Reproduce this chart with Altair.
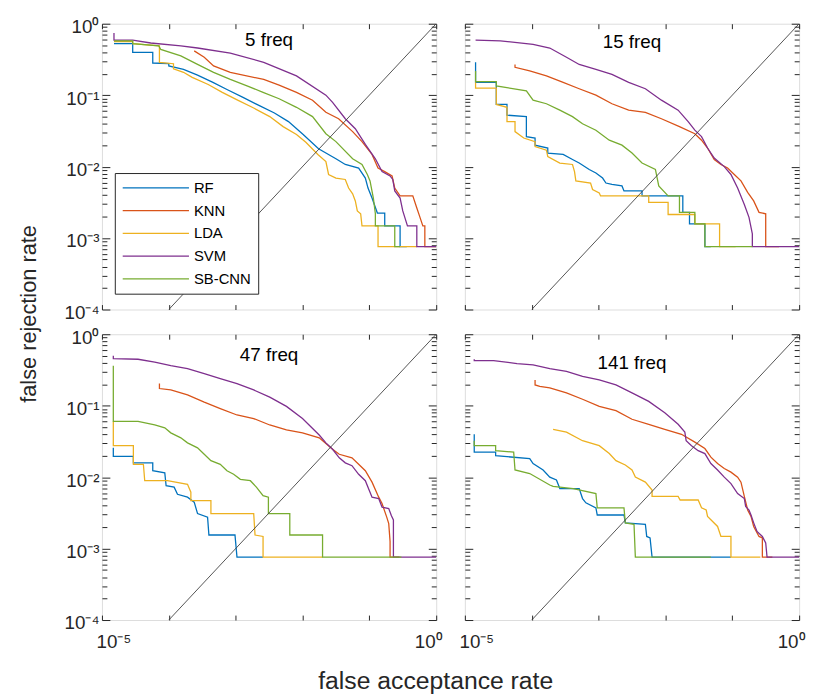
import altair as alt
import pandas as pd

FONT = "Liberation Sans"
AX = "#262626"

models = ["RF", "KNN", "LDA", "SVM", "SB-CNN"]
colors = ["#0072BD", "#D95319", "#EDB120", "#7E2F8E", "#77AC30"]
panel_titles = ["5 freq", "15 freq", "47 freq", "141 freq"]

# values, stored as log10 exponents
# ---- 5 freq
rf5_far = [-4.82,-4.54,-4.54,-4.24,-4.24,-4.00,-4.00,-3.78,-3.57,-3.34,-3.13,-2.89,-2.66,-2.42,-2.21,-1.99,-1.76,-1.50,-1.36,-1.16,-1.06,-1.02,-0.96,-0.88,-0.77,-0.77,-0.54,-0.54,-0.44]
rf5_frr = [-0.28,-0.28,-0.40,-0.40,-0.55,-0.56,-0.59,-0.64,-0.72,-0.82,-0.92,-1.03,-1.14,-1.25,-1.37,-1.55,-1.75,-1.89,-1.97,-2.02,-2.16,-2.30,-2.44,-2.65,-2.65,-2.83,-2.83,-3.12,-3.12]
knn5_far = [-3.62,-3.47,-3.33,-3.08,-2.58,-2.35,-2.09,-1.85,-1.65,-1.46,-1.25,-1.11,-0.96,-0.87,-0.77,-0.66,-0.62,-0.54,-0.35,-0.29,-0.25,-0.20,-0.17,-0.17,0.0]
knn5_frr = [-0.38,-0.47,-0.59,-0.68,-0.78,-0.86,-0.96,-1.07,-1.24,-1.33,-1.51,-1.65,-1.83,-2.02,-2.07,-2.13,-2.30,-2.41,-2.41,-2.58,-2.69,-2.83,-2.83,-3.12,-3.12]
lda5_far = [-4.82,-4.54,-4.54,-4.14,-4.14,-3.93,-3.93,-3.78,-3.65,-3.41,-3.20,-2.97,-2.73,-2.49,-2.29,-2.09,-1.95,-1.77,-1.65,-1.61,-1.50,-1.36,-1.31,-1.25,-1.21,-1.18,-1.13,-1.11,-0.87,-0.87,-0.29]
lda5_frr = [-0.25,-0.25,-0.28,-0.31,-0.54,-0.56,-0.63,-0.68,-0.75,-0.85,-0.96,-1.07,-1.18,-1.30,-1.44,-1.55,-1.66,-1.83,-1.93,-2.11,-2.16,-2.18,-2.30,-2.38,-2.48,-2.62,-2.66,-2.83,-2.83,-3.12,-3.12]
svm5_far = [-4.82,-4.82,-4.54,-4.27,-3.82,-3.57,-3.08,-2.58,-2.09,-1.65,-1.55,-1.36,-1.21,-1.06,-0.91,-0.81,-0.69,-0.65,-0.62,-0.54,-0.50,-0.43,-0.29,-0.29,0.0]
svm5_frr = [-0.13,-0.23,-0.23,-0.27,-0.31,-0.34,-0.41,-0.54,-0.73,-1.00,-1.10,-1.33,-1.47,-1.69,-1.89,-2.07,-2.13,-2.18,-2.34,-2.44,-2.62,-2.83,-2.83,-3.12,-3.12]
cnn5_far = [-4.82,-4.54,-4.54,-4.15,-4.12,-3.82,-3.57,-3.33,-3.08,-2.83,-2.59,-2.35,-2.09,-1.85,-1.65,-1.50,-1.25,-1.11,-1.03,-0.99,-0.94,-0.91,-0.91,-0.62,-0.62,-0.54]
cnn5_frr = [-0.24,-0.24,-0.28,-0.31,-0.36,-0.45,-0.57,-0.68,-0.78,-0.87,-0.96,-1.05,-1.17,-1.30,-1.54,-1.65,-1.89,-1.97,-2.11,-2.20,-2.44,-2.66,-2.83,-2.83,-3.12,-3.12]

# ---- 15 freq
rf15_far = [-4.84,-4.84,-4.53,-4.53,-4.37,-4.37,-4.08,-4.08,-3.95,-3.95,-3.76,-3.76,-3.53,-3.39,-3.29,-3.14,-3.04,-2.94,-2.89,-2.80,-2.65,-2.62,-2.35,-2.35,-1.74,-1.74,-1.64,-1.64,-1.41,-1.41,-1.32]
rf15_frr = [-0.54,-0.82,-0.82,-1.13,-1.13,-1.28,-1.30,-1.58,-1.60,-1.70,-1.74,-1.81,-1.83,-1.90,-1.95,-2.04,-2.09,-2.16,-2.23,-2.25,-2.27,-2.34,-2.34,-2.41,-2.41,-2.64,-2.64,-2.80,-2.80,-3.12,-3.12]
knn15_far = [-4.25,-4.25,-4.03,-3.78,-3.53,-3.29,-3.04,-2.80,-2.55,-2.30,-2.06,-1.79,-1.56,-1.46,-1.37,-1.27,-1.17,-1.07,-0.97,-0.87,-0.77,-0.68,-0.60,-0.50,-0.50,-0.30]
knn15_frr = [-0.57,-0.61,-0.66,-0.73,-0.82,-0.91,-1.00,-1.12,-1.21,-1.24,-1.33,-1.44,-1.54,-1.63,-1.74,-1.90,-1.97,-2.02,-2.11,-2.20,-2.36,-2.48,-2.64,-2.66,-3.12,-3.12]
lda15_far = [-4.84,-4.84,-4.53,-4.53,-4.37,-4.37,-4.25,-4.25,-4.12,-3.95,-3.95,-3.78,-3.76,-3.58,-3.39,-3.36,-3.34,-3.12,-3.09,-2.99,-2.97,-2.25,-2.25,-1.96,-1.96,-1.56,-1.56,-1.19,-1.19,-0.95]
lda15_frr = [-0.82,-0.90,-0.90,-1.13,-1.17,-1.37,-1.37,-1.51,-1.60,-1.65,-1.72,-1.77,-1.86,-1.95,-1.97,-2.07,-2.20,-2.23,-2.32,-2.37,-2.41,-2.41,-2.50,-2.50,-2.67,-2.67,-2.80,-2.80,-3.12,-3.12]
svm15_far = [-4.84,-4.47,-3.98,-3.73,-3.48,-3.29,-3.04,-2.80,-2.55,-2.30,-2.06,-1.81,-1.66,-1.56,-1.46,-1.37,-1.27,-1.12,-1.02,-0.92,-0.82,-0.75,-0.70,-0.70,0.0]
svm15_frr = [-0.23,-0.24,-0.29,-0.34,-0.47,-0.57,-0.64,-0.71,-0.82,-0.91,-1.07,-1.21,-1.37,-1.49,-1.58,-1.74,-1.88,-2.00,-2.11,-2.30,-2.53,-2.71,-2.94,-3.12,-3.12]
cnn15_far = [-4.84,-4.84,-4.53,-4.53,-4.08,-3.98,-3.78,-3.58,-3.39,-3.24,-3.04,-2.84,-2.65,-2.50,-2.35,-2.15,-2.10,-1.96,-1.79,-1.79,-1.56,-1.56,-1.41,-1.41,-0.70]
cnn15_frr = [-0.66,-0.81,-0.81,-0.87,-0.94,-1.07,-1.12,-1.21,-1.30,-1.40,-1.49,-1.63,-1.70,-1.81,-1.95,-2.04,-2.27,-2.41,-2.41,-2.64,-2.64,-2.80,-2.80,-3.12,-3.12]

# ---- 47 freq
rf47_far = [-4.83,-4.83,-4.53,-4.53,-4.24,-4.24,-4.06,-4.04,-3.92,-3.87,-3.72,-3.62,-3.57,-3.42,-3.40,-3.01,-2.98,-2.59]
rf47_frr = [-1.59,-1.71,-1.71,-1.80,-1.80,-1.91,-1.94,-2.12,-2.14,-2.24,-2.28,-2.35,-2.51,-2.56,-2.81,-2.81,-3.12,-3.12]
knn47_far = [-4.14,-4.14,-3.97,-3.72,-3.47,-3.23,-2.98,-2.73,-2.49,-2.24,-2.00,-1.75,-1.55,-1.45,-1.26,-1.06,-0.96,-0.86,-0.81,-0.74,-0.71,-0.69,-0.69,-0.55]
knn47_frr = [-0.69,-0.76,-0.78,-0.85,-0.95,-1.04,-1.13,-1.18,-1.27,-1.34,-1.38,-1.45,-1.61,-1.68,-1.73,-1.91,-2.07,-2.28,-2.37,-2.56,-2.65,-2.90,-3.12,-3.12]
lda47_far = [-4.83,-4.83,-4.53,-4.53,-4.38,-4.36,-4.02,-3.72,-3.67,-3.67,-3.37,-3.37,-2.73,-2.71,-2.59,-2.59,-1.70]
lda47_frr = [-1.22,-1.56,-1.56,-1.82,-1.82,-2.05,-2.05,-2.10,-2.21,-2.33,-2.33,-2.51,-2.51,-2.81,-2.83,-3.12,-3.12]
svm47_far = [-4.83,-4.83,-4.46,-4.21,-3.97,-3.72,-3.47,-3.23,-2.98,-2.73,-2.49,-2.24,-2.00,-1.75,-1.65,-1.55,-1.45,-1.36,-1.26,-1.16,-1.06,-0.96,-0.86,-0.81,-0.71,-0.67,-0.64,-0.64,0.0]
svm47_frr = [-0.30,-0.34,-0.35,-0.39,-0.44,-0.48,-0.55,-0.62,-0.69,-0.78,-0.88,-1.01,-1.18,-1.41,-1.52,-1.61,-1.73,-1.80,-1.84,-1.96,-2.05,-2.28,-2.30,-2.42,-2.44,-2.54,-2.60,-3.12,-3.12]
cnn47_far = [-4.83,-4.83,-4.46,-4.21,-4.06,-3.97,-3.82,-3.72,-3.57,-3.47,-3.37,-3.23,-3.13,-3.03,-2.93,-2.78,-2.69,-2.59,-2.51,-2.51,-2.19,-2.19,-1.70,-1.70,-0.52]
cnn47_frr = [-0.44,-1.22,-1.22,-1.27,-1.31,-1.38,-1.45,-1.52,-1.59,-1.68,-1.77,-1.82,-1.91,-1.96,-2.03,-2.05,-2.14,-2.26,-2.28,-2.51,-2.51,-2.81,-2.81,-3.12,-3.12]

# ---- 141 freq
rf141_far = [-4.86,-4.86,-4.54,-4.54,-4.03,-3.98,-3.83,-3.73,-3.63,-3.58,-3.29,-3.24,-3.19,-3.04,-3.02,-2.62,-2.60,-2.30,-2.28,-2.23,-2.20,-1.02]
rf141_frr = [-1.40,-1.65,-1.65,-1.70,-1.74,-1.81,-1.90,-2.00,-2.04,-2.16,-2.16,-2.30,-2.36,-2.43,-2.53,-2.53,-2.64,-2.66,-2.83,-2.85,-3.12,-3.12]
knn141_far = [-3.95,-3.95,-3.88,-3.73,-3.48,-3.24,-2.99,-2.74,-2.50,-2.25,-2.01,-1.76,-1.56,-1.41,-1.32,-1.22,-1.12,-1.02,-0.92,-0.87,-0.82,-0.77,-0.72,-0.68,-0.60,-0.55,-0.55,-0.40]
knn141_frr = [-0.64,-0.71,-0.73,-0.75,-0.82,-0.91,-1.01,-1.07,-1.19,-1.26,-1.33,-1.40,-1.51,-1.60,-1.72,-1.81,-1.88,-1.93,-2.00,-2.07,-2.27,-2.46,-2.55,-2.69,-2.83,-2.85,-3.12,-3.12]
lda141_far = [-3.68,-3.48,-3.24,-2.99,-2.84,-2.74,-2.60,-2.50,-2.45,-2.30,-2.20,-2.20,-1.81,-1.78,-1.51,-1.46,-1.39,-1.37,-1.22,-1.17,-1.02,-1.02,-0.58]
lda141_frr = [-1.33,-1.37,-1.49,-1.56,-1.67,-1.77,-1.83,-1.90,-2.00,-2.07,-2.18,-2.27,-2.27,-2.32,-2.32,-2.43,-2.46,-2.55,-2.69,-2.83,-2.83,-3.12,-3.12]
svm141_far = [-4.86,-4.86,-4.57,-4.22,-3.98,-3.73,-3.48,-3.24,-2.99,-2.74,-2.50,-2.25,-2.01,-1.81,-1.71,-1.69,-1.61,-1.51,-1.41,-1.32,-1.22,-1.12,-1.02,-0.92,-0.82,-0.80,-0.75,-0.72,-0.68,-0.63,-0.55,-0.50,-0.48,0.0]
svm141_frr = [-0.35,-0.37,-0.37,-0.41,-0.43,-0.48,-0.52,-0.59,-0.64,-0.71,-0.82,-0.94,-1.10,-1.26,-1.37,-1.49,-1.56,-1.63,-1.67,-1.81,-1.90,-2.00,-2.09,-2.23,-2.30,-2.41,-2.46,-2.53,-2.64,-2.76,-2.83,-2.92,-3.12,-3.12]
cnn141_far = [-4.86,-4.86,-4.54,-4.54,-4.27,-4.25,-4.03,-3.73,-3.68,-3.38,-3.04,-3.02,-2.62,-2.60,-2.47,-2.45,-1.32]
cnn141_frr = [-1.49,-1.56,-1.56,-1.63,-1.65,-1.90,-1.95,-2.11,-2.13,-2.16,-2.23,-2.43,-2.43,-2.64,-2.66,-3.12,-3.12]

# chance diagonal (FAR = FRR)
diag_far = [1e-4, 1.0]
diag_frr = [1e-4, 1.0]

panels = [
    {"RF": (rf5_far, rf5_frr), "KNN": (knn5_far, knn5_frr), "LDA": (lda5_far, lda5_frr),
     "SVM": (svm5_far, svm5_frr), "SB-CNN": (cnn5_far, cnn5_frr)},
    {"RF": (rf15_far, rf15_frr), "KNN": (knn15_far, knn15_frr), "LDA": (lda15_far, lda15_frr),
     "SVM": (svm15_far, svm15_frr), "SB-CNN": (cnn15_far, cnn15_frr)},
    {"RF": (rf47_far, rf47_frr), "KNN": (knn47_far, knn47_frr), "LDA": (lda47_far, lda47_frr),
     "SVM": (svm47_far, svm47_frr), "SB-CNN": (cnn47_far, cnn47_frr)},
    {"RF": (rf141_far, rf141_frr), "KNN": (knn141_far, knn141_frr), "LDA": (lda141_far, lda141_frr),
     "SVM": (svm141_far, svm141_frr), "SB-CNN": (cnn141_far, cnn141_frr)},
]

x_major = [1e-5, 1e-4, 1e-3, 1e-2, 1e-1, 1.0]
y_major = [1e-4, 1e-3, 1e-2, 1e-1, 1.0]
y_minor = [k * m for m in [1e-4, 1e-3, 1e-2, 1e-1] for k in range(2, 10)]

xs = alt.Scale(type="log", domain=[1e-5, 1.0], nice=False)
ys = alt.Scale(type="log", domain=[1e-4, 1.0], nice=False)

W, H = 338, 289

x_lab = "datum.value < 2e-5 ? '10\u207b\u2075' : (datum.value > 0.5 ? '10\u2070' : '')"
y_lab = ("datum.value > 0.5 ? '10\u2070' : datum.value > 0.05 ? '10\u207b\u00b9' : "
         "datum.value > 0.005 ? '10\u207b\u00b2' : datum.value > 0.0005 ? '10\u207b\u00b3' : '10\u207b\u2074'")

tick_common = dict(domain=False, grid=False, tickColor=AX, tickWidth=1)


def make_df(series):
    rows = []
    for m in models:
        fx, fy = series[m]
        for i, (a, b) in enumerate(zip(fx, fy)):
            rows.append({"model": m, "i": i, "far": 10 ** a, "frr": 10 ** b})
    return pd.DataFrame(rows)


diag_df = pd.DataFrame({"far": diag_far, "frr": diag_frr})

title_offsets = [-33, -29, -37, -40]


def panel(k):
    left = k in (0, 2)
    bottom = k in (2, 3)
    df = make_df(panels[k])

    if bottom:
        xax = alt.Axis(orient="bottom", values=x_major, tickSize={"expr": "-5"},
                       labels=True, labelExpr=x_lab, labelFont=FONT, labelFontSize=19,
                       labelColor=AX, labelPadding=18, labelFlush=True, labelFlushOffset=6,
                       labelOverlap=False, **tick_common,
                       **({"title": "false acceptance rate", "titleFont": FONT, "titleFontSize": 25,
                           "titleFontWeight": "normal", "titleColor": AX, "titleX": 337, "titleY": 69,
                           "titleBaseline": "alphabetic", "titleAlign": "center"} if k == 2 else {"title": None}))
    else:
        xax = alt.Axis(orient="bottom", values=x_major, tickSize={"expr": "-5"}, labels=False,
                       title=None, **tick_common)

    if left:
        yax = alt.Axis(orient="left", values=y_major, tickSize={"expr": "-8"},
                       labels=True, labelExpr=y_lab, labelFont=FONT, labelFontSize=19,
                       labelColor=AX, labelPadding=11, labelOffset=3, labelOverlap=False,
                       **tick_common,
                       **({"title": "false rejection rate", "titleFont": FONT, "titleFontSize": 22,
                           "titleFontWeight": "normal", "titleColor": AX, "titleX": -67, "titleY": 293,
                           "titleAngle": 270, "titleBaseline": "alphabetic", "titleAlign": "center"}
                          if k == 0 else {"title": None}))
    else:
        yax = alt.Axis(orient="left", values=y_major, tickSize={"expr": "-8"}, labels=False,
                       title=None, **tick_common)

    lines = alt.Chart(df).mark_line(strokeWidth=1.3, clip=True).encode(
        x=alt.X("far:Q", scale=xs, axis=xax),
        y=alt.Y("frr:Q", scale=ys, axis=yax),
        color=alt.Color("model:N", scale=alt.Scale(domain=models, range=colors),
                        legend=alt.Legend(title=None, orient="none", legendX=13, legendY=151,
                                          symbolType="stroke", symbolSize=4489, symbolStrokeWidth=1.3,
                                          clipHeight=16, rowPadding=7, labelFontSize=15, labelFont=FONT,
                                          labelColor="#000000", labelOffset=4, padding=7,
                                          strokeColor=AX, fillColor="white")),
        order=alt.Order("i:Q"),
    )

    diag = alt.Chart(diag_df).mark_line(color="#404040", strokeWidth=0.9, clip=True).encode(
        x=alt.X("far:Q", scale=xs, axis=alt.Axis(orient="top", values=x_major, tickSize={"expr": "-5"},
                                                  labels=False, title=None, **tick_common)),
        y=alt.Y("frr:Q", scale=ys, axis=alt.Axis(orient="right", values=y_major, tickSize={"expr": "-8"},
                                                  labels=False, title=None, **tick_common)),
    )

    minor_l = alt.Chart(diag_df).mark_line(opacity=0).encode(
        x=alt.X("far:Q", scale=xs, axis=None),
        y=alt.Y("frr:Q", scale=ys, axis=alt.Axis(orient="left", values=y_minor, tickSize={"expr": "-5"},
                                                  labels=False, title=None, **tick_common)),
    )
    minor_r = alt.Chart(diag_df).mark_line(opacity=0).encode(
        x=alt.X("far:Q", scale=xs, axis=None),
        y=alt.Y("frr:Q", scale=ys, axis=alt.Axis(orient="right", values=y_minor, tickSize={"expr": "-5"},
                                                  labels=False, title=None, **tick_common)),
    )

    return alt.layer(lines, diag, minor_l, minor_r).resolve_axis(
        x="independent", y="independent"
    ).properties(
        width=W, height=H,
        title=alt.TitleParams(text=panel_titles[k], anchor="middle", fontSize=19, fontWeight="normal",
                              font=FONT, color="#000000", offset=title_offsets[k]),
    )


chart = alt.concat(
    panel(0), panel(1), panel(2), panel(3),
    columns=2, spacing={"row": 25, "column": 29}, bounds="flush",
).properties(
    padding={"left": 9, "top": 5, "right": 5, "bottom": 5}
).configure_view(stroke=AX, strokeWidth=1).configure(background="white")

chart.save("out.html", embed_options={"renderer": "svg", "actions": False})
